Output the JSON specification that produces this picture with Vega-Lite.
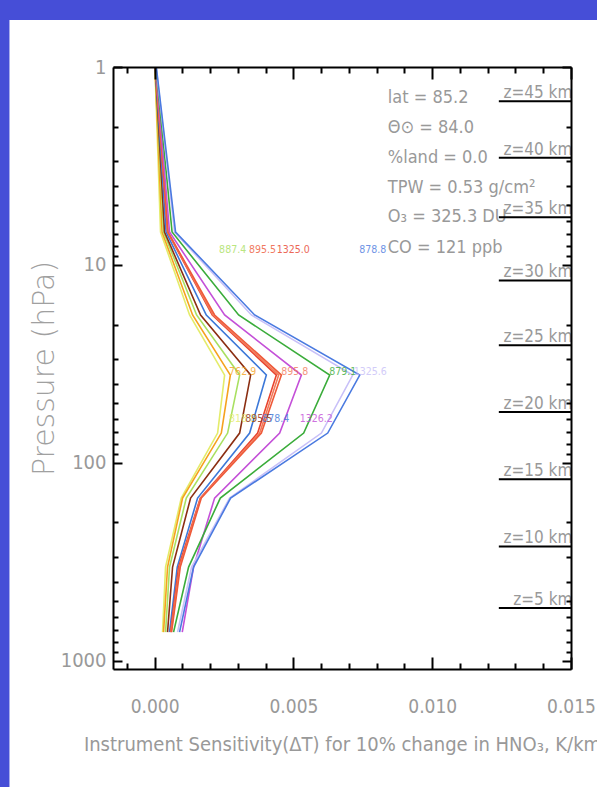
{
  "$schema": "https://vega.github.io/schema/vega-lite/v6.json",
  "width": 458,
  "height": 602,
  "autosize": {"type": "none"},
  "padding": {"left": 113, "top": 67, "right": 26, "bottom": 118},
  "background": "#464ed7",
  "config": {
    "view": {"stroke": null},
    "text": {"font": "DejaVu Sans Condensed, Liberation Sans"}
  },
  "datasets": {
    "prof": [
      {"ch": "818.8", "p": 1, "s": 0.00001}, {"ch": "818.8", "p": 6.82, "s": 0.000213}, {"ch": "818.8", "p": 17.9, "s": 0.001259}, {"ch": "818.8", "p": 36.0, "s": 0.002521}, {"ch": "818.8", "p": 70.7, "s": 0.002269}, {"ch": "818.8", "p": 150.6, "s": 0.000959}, {"ch": "818.8", "p": 336, "s": 0.000393}, {"ch": "818.8", "p": 716, "s": 0.000285},
      {"ch": "762.9", "p": 1, "s": 0.00001}, {"ch": "762.9", "p": 6.82, "s": 0.000267}, {"ch": "762.9", "p": 17.9, "s": 0.001367}, {"ch": "762.9", "p": 36.0, "s": 0.002727}, {"ch": "762.9", "p": 70.7, "s": 0.002402}, {"ch": "762.9", "p": 150.6, "s": 0.001006}, {"ch": "762.9", "p": 336, "s": 0.000465}, {"ch": "762.9", "p": 716, "s": 0.000321},
      {"ch": "887.4", "p": 1, "s": 0.000018}, {"ch": "887.4", "p": 6.82, "s": 0.000321}, {"ch": "887.4", "p": 17.9, "s": 0.001511}, {"ch": "887.4", "p": 36.0, "s": 0.003062}, {"ch": "887.4", "p": 70.7, "s": 0.002629}, {"ch": "887.4", "p": 150.6, "s": 0.00114}, {"ch": "887.4", "p": 336, "s": 0.000537}, {"ch": "887.4", "p": 716, "s": 0.000393},
      {"ch": "895.5b", "p": 1, "s": 0.000022}, {"ch": "895.5b", "p": 6.82, "s": 0.000357}, {"ch": "895.5b", "p": 17.9, "s": 0.001655}, {"ch": "895.5b", "p": 36.0, "s": 0.003459}, {"ch": "895.5b", "p": 70.7, "s": 0.003062}, {"ch": "895.5b", "p": 150.6, "s": 0.001295}, {"ch": "895.5b", "p": 336, "s": 0.000646}, {"ch": "895.5b", "p": 716, "s": 0.000465},
      {"ch": "878.4", "p": 1, "s": 0.000025}, {"ch": "878.4", "p": 6.82, "s": 0.000411}, {"ch": "878.4", "p": 17.9, "s": 0.001861}, {"ch": "878.4", "p": 36.0, "s": 0.004025}, {"ch": "878.4", "p": 70.7, "s": 0.003423}, {"ch": "878.4", "p": 150.6, "s": 0.001547}, {"ch": "878.4", "p": 336, "s": 0.000815}, {"ch": "878.4", "p": 716, "s": 0.000537},
      {"ch": "1325.0", "p": 1, "s": 0.000029}, {"ch": "1325.0", "p": 6.82, "s": 0.000465}, {"ch": "1325.0", "p": 17.9, "s": 0.002077}, {"ch": "1325.0", "p": 36.0, "s": 0.004386}, {"ch": "1325.0", "p": 70.7, "s": 0.003711}, {"ch": "1325.0", "p": 150.6, "s": 0.001645}, {"ch": "1325.0", "p": 336, "s": 0.000862}, {"ch": "1325.0", "p": 716, "s": 0.000573},
      {"ch": "895.8", "p": 1, "s": 0.000032}, {"ch": "895.8", "p": 6.82, "s": 0.000476}, {"ch": "895.8", "p": 17.9, "s": 0.002106}, {"ch": "895.8", "p": 36.0, "s": 0.004469}, {"ch": "895.8", "p": 70.7, "s": 0.003783}, {"ch": "895.8", "p": 150.6, "s": 0.001655}, {"ch": "895.8", "p": 336, "s": 0.000898}, {"ch": "895.8", "p": 716, "s": 0.000591},
      {"ch": "895.5", "p": 1, "s": 0.000032}, {"ch": "895.5", "p": 6.82, "s": 0.000483}, {"ch": "895.5", "p": 17.9, "s": 0.00216}, {"ch": "895.5", "p": 36.0, "s": 0.004566}, {"ch": "895.5", "p": 70.7, "s": 0.003845}, {"ch": "895.5", "p": 150.6, "s": 0.001681}, {"ch": "895.5", "p": 336, "s": 0.000923}, {"ch": "895.5", "p": 716, "s": 0.00061},
      {"ch": "1326.2", "p": 1, "s": 0.00004}, {"ch": "1326.2", "p": 6.82, "s": 0.000537}, {"ch": "1326.2", "p": 17.9, "s": 0.002521}, {"ch": "1326.2", "p": 36.0, "s": 0.005287}, {"ch": "1326.2", "p": 70.7, "s": 0.004505}, {"ch": "1326.2", "p": 150.6, "s": 0.00216}, {"ch": "1326.2", "p": 336, "s": 0.001403}, {"ch": "1326.2", "p": 716, "s": 0.000995},
      {"ch": "879.1", "p": 1, "s": 0.000047}, {"ch": "879.1", "p": 6.82, "s": 0.000628}, {"ch": "879.1", "p": 17.9, "s": 0.003026}, {"ch": "879.1", "p": 36.0, "s": 0.006308}, {"ch": "879.1", "p": 70.7, "s": 0.00537}, {"ch": "879.1", "p": 150.6, "s": 0.002366}, {"ch": "879.1", "p": 336, "s": 0.001223}, {"ch": "879.1", "p": 716, "s": 0.000682},
      {"ch": "1325.6", "p": 1, "s": 0.000054}, {"ch": "1325.6", "p": 6.82, "s": 0.000718}, {"ch": "1325.6", "p": 17.9, "s": 0.003484}, {"ch": "1325.6", "p": 36.0, "s": 0.007137}, {"ch": "1325.6", "p": 70.7, "s": 0.006009}, {"ch": "1325.6", "p": 150.6, "s": 0.002701}, {"ch": "1325.6", "p": 336, "s": 0.001331}, {"ch": "1325.6", "p": 716, "s": 0.000826},
      {"ch": "878.8", "p": 1, "s": 0.000061}, {"ch": "878.8", "p": 6.82, "s": 0.000754}, {"ch": "878.8", "p": 17.9, "s": 0.003603}, {"ch": "878.8", "p": 36.0, "s": 0.00739}, {"ch": "878.8", "p": 70.7, "s": 0.006236}, {"ch": "878.8", "p": 150.6, "s": 0.002737}, {"ch": "878.8", "p": 336, "s": 0.001403}, {"ch": "878.8", "p": 716, "s": 0.000898}
    ],
    "chlabels": [
      {"t": "887.4", "ch": "887.4", "x": 0.00281, "p": 8.41},
      {"t": "895.5", "ch": "895.5", "x": 0.00389, "p": 8.41},
      {"t": "1325.0", "ch": "1325.0", "x": 0.00499, "p": 8.41},
      {"t": "878.8", "ch": "878.8", "x": 0.00786, "p": 8.41},
      {"t": "762.9", "ch": "762.9", "x": 0.00317, "p": 34.8},
      {"t": "895.8", "ch": "895.8", "x": 0.00505, "p": 34.8},
      {"t": "879.1", "ch": "879.1", "x": 0.00678, "p": 34.8},
      {"t": "1325.6", "ch": "1325.6", "x": 0.00777, "p": 34.8},
      {"t": "818.8", "ch": "818.8", "x": 0.00317, "p": 60.1},
      {"t": "895.5", "ch": "895.5b", "x": 0.00375, "p": 60.1},
      {"t": "878.4", "ch": "878.4", "x": 0.00436, "p": 60.1},
      {"t": "1326.2", "ch": "1326.2", "x": 0.00582, "p": 60.1}
    ],
    "info": [
      {"t": "lat = 85.2", "p": 1.52},
      {"t": "Θ⊙ = 84.0", "p": 2.156},
      {"t": "%land =  0.0", "p": 3.056},
      {"t": "TPW =  0.53 g/cm²", "p": 4.33},
      {"t": "O₃ = 325.3 DU", "p": 6.07},
      {"t": "CO = 121 ppb", "p": 8.71}
    ],
    "alt": [
      {"z": "z=45  km", "p": 1.491},
      {"z": "z=40  km", "p": 2.871},
      {"z": "z=35  km", "p": 5.746},
      {"z": "z=30  km", "p": 11.97},
      {"z": "z=25  km", "p": 25.49},
      {"z": "z=20  km", "p": 55.29},
      {"z": "z=15  km", "p": 121.1},
      {"z": "z=10  km", "p": 264.4},
      {"z": "z=5  km", "p": 540.5}
    ]
  },
  "layer": [
    {
      "data": {"values": [{}]},
      "mark": {"type": "rect", "color": "white", "clip": false},
      "encoding": {
        "x": {"datum": -0.00523, "type": "quantitative", "scale": {"domain": [-0.0015, 0.015], "nice": false, "zero": false}, "axis": null},
        "x2": {"datum": 0.0163},
        "y": {"datum": 0.578, "type": "quantitative", "scale": {"type": "log", "domain": [1, 1100], "reverse": true, "nice": false}, "axis": null},
        "y2": {"datum": 4350}
      }
    },
    {
      "data": {"name": "prof"},
      "mark": {"type": "line", "strokeWidth": 1.6},
      "encoding": {
        "x": {
          "field": "s", "type": "quantitative",
          "scale": {"domain": [-0.0015, 0.015], "nice": false, "zero": false},
          "axis": {
            "orient": "bottom", "zindex": 2,
            "values": [-0.001, 0, 0.001, 0.002, 0.003, 0.004, 0.005, 0.006, 0.007, 0.008, 0.009, 0.01, 0.011, 0.012, 0.013, 0.014, 0.015],
            "labelExpr": "abs(round(datum.value*1000)) % 5 == 0 ? format(datum.value, '.3f') : ''",
            "tickSize": {"condition": {"test": "abs(round(datum.value*1000)) % 5 == 0", "value": -12}, "value": -6},
            "tickColor": "black", "tickWidth": 2, "domainColor": "black", "domainWidth": 2,
            "grid": false, "labelPadding": 40, "labelFontSize": 19, "labelColor": "#999999",
            "labelFont": "DejaVu Sans Condensed, Liberation Sans",
            "labelFontWeight": "normal", "labelFlush": false, "labelOverlap": false,
            "title": "Instrument Sensitivity(ΔT) for 10% change in HNO₃,  K/km",
            "titleFontSize": 20, "titleColor": "#999999", "titleFontWeight": "normal",
            "titleFont": "DejaVu Sans Condensed, Liberation Sans",
            "titlePadding": 12
          }
        },
        "y": {
          "field": "p", "type": "quantitative",
          "scale": {"type": "log", "domain": [1, 1100], "reverse": true, "nice": false},
          "axis": {
            "orient": "left", "zindex": 2,
            "values": [1, 2, 3, 4, 5, 6, 7, 8, 9, 10, 20, 30, 40, 50, 60, 70, 80, 90, 100, 200, 300, 400, 500, 600, 700, 800, 900, 1000],
            "labelExpr": "(datum.value == 1 || datum.value == 10 || datum.value == 100 || datum.value == 1000) ? format(datum.value, 'd') : ''",
            "tickSize": {"condition": {"test": "datum.value == 1 || datum.value == 10 || datum.value == 100 || datum.value == 1000", "value": -9}, "value": -5},
            "tickColor": "black", "tickWidth": 2, "domainColor": "black", "domainWidth": 2,
            "grid": false, "labelPadding": 16, "labelFontSize": 20, "labelColor": "#999999",
            "labelFont": "DejaVu Sans Condensed, Liberation Sans",
            "labelFlush": false, "labelOverlap": false,
            "title": "Pressure (hPa)", "titleFontSize": 30, "titleColor": "#a0a0a0", "titleFontWeight": 200,
            "titleFont": "DejaVu Sans", "titlePadding": 1
          }
        },
        "color": {
          "field": "ch", "type": "nominal", "legend": null,
          "scale": {
            "domain": ["818.8", "762.9", "887.4", "895.5b", "878.4", "1325.0", "895.8", "895.5", "1326.2", "879.1", "1325.6", "878.8"],
            "range": ["#e4ec6a", "#f5a21e", "#a8e060", "#8b2e12", "#3c78d8", "#e8432e", "#f27a5a", "#ee5a3a", "#c450d8", "#3aac3a", "#c8c0f8", "#4a7ae0"]
          }
        },
        "order": {"field": "p", "type": "quantitative"}
      }
    },
    {
      "data": {"name": "chlabels"},
      "mark": {"type": "text", "fontSize": 10.5, "opacity": 0.8, "align": "center", "baseline": "middle"},
      "encoding": {
        "x": {"field": "x", "type": "quantitative", "scale": {"domain": [-0.0015, 0.015], "nice": false, "zero": false}, "axis": null},
        "y": {"field": "p", "type": "quantitative", "scale": {"type": "log", "domain": [1, 1100], "reverse": true, "nice": false}, "axis": null},
        "text": {"field": "t"},
        "color": {"field": "ch", "type": "nominal", "legend": null}
      }
    },
    {
      "data": {"name": "info"},
      "mark": {"type": "text", "fontSize": 18, "color": "#999999", "align": "left", "baseline": "alphabetic"},
      "encoding": {
        "x": {"datum": 0.0084, "type": "quantitative", "scale": {"domain": [-0.0015, 0.015], "nice": false, "zero": false}, "axis": null},
        "y": {"field": "p", "type": "quantitative", "scale": {"type": "log", "domain": [1, 1100], "reverse": true, "nice": false}, "axis": null},
        "text": {"field": "t"}
      }
    },
    {
      "data": {"name": "alt"},
      "mark": {"type": "text", "fontSize": 17, "color": "#999999", "align": "right", "baseline": "alphabetic", "dy": -3},
      "encoding": {
        "x": {"datum": 0.01505, "type": "quantitative", "scale": {"domain": [-0.0015, 0.015], "nice": false, "zero": false}, "axis": null},
        "y": {"field": "p", "type": "quantitative", "scale": {"type": "log", "domain": [1, 1100], "reverse": true, "nice": false}, "axis": null},
        "text": {"field": "z"}
      }
    },
    {
      "data": {"name": "alt"},
      "mark": {"type": "rule", "color": "black", "strokeWidth": 2},
      "encoding": {
        "x": {
          "datum": 0.0124, "type": "quantitative",
          "scale": {"domain": [-0.0015, 0.015], "nice": false, "zero": false},
          "axis": {
            "orient": "top", "zindex": 2,
            "values": [-0.001, 0, 0.001, 0.002, 0.003, 0.004, 0.005, 0.006, 0.007, 0.008, 0.009, 0.01, 0.011, 0.012, 0.013, 0.014, 0.015],
            "labels": false, "title": null, "grid": false,
            "tickSize": {"condition": {"test": "abs(round(datum.value*1000)) % 5 == 0", "value": -12}, "value": -6},
            "tickColor": "black", "tickWidth": 2, "domainColor": "black", "domainWidth": 2
          }
        },
        "x2": {"datum": 0.015},
        "y": {
          "field": "p", "type": "quantitative",
          "scale": {"type": "log", "domain": [1, 1100], "reverse": true, "nice": false},
          "axis": {
            "orient": "right", "zindex": 2,
            "values": [1, 2, 3, 4, 5, 6, 7, 8, 9, 10, 20, 30, 40, 50, 60, 70, 80, 90, 100, 200, 300, 400, 500, 600, 700, 800, 900, 1000],
            "labels": false, "title": null, "grid": false,
            "tickSize": {"condition": {"test": "datum.value == 1 || datum.value == 10 || datum.value == 100 || datum.value == 1000", "value": -9}, "value": -5},
            "tickColor": "black", "tickWidth": 2, "domainColor": "black", "domainWidth": 2
          }
        }
      }
    }
  ],
  "resolve": {"axis": {"x": "independent", "y": "independent"}}
}
